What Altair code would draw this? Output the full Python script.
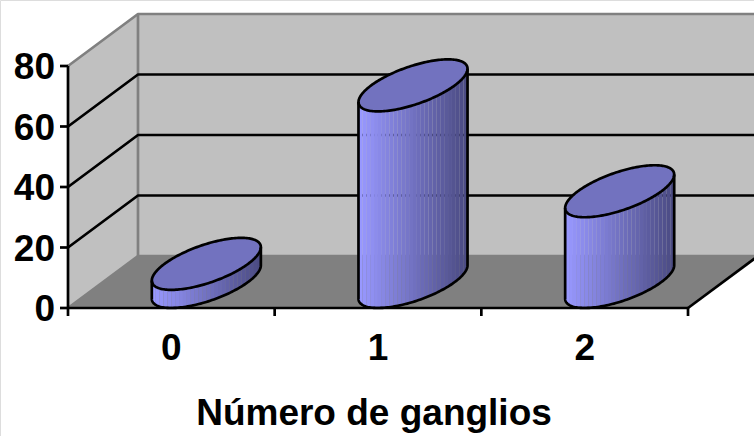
import altair as alt
import numpy as np
import pandas as pd

# Chart content
categories = ["0", "1", "2"]
values = [6, 65, 30]
y_ticks = [0, 20, 40, 60, 80]
x_title = "Número de ganglios"

# Oblique projection of the plot box, in axis units
W, H = 754, 436
X_LEFT, Y_ZERO = 68, 308            # screen position of the front origin
PX_PER_CAT, PX_PER_VAL = 206.67, 3.025
DEPTH_X, DEPTH_Y = 70 / PX_PER_CAT, 52 / PX_PER_VAL
Y_MAX, N_CAT = 80, len(categories)

x_scale = alt.Scale(domain=[-X_LEFT / PX_PER_CAT, (W - X_LEFT) / PX_PER_CAT], nice=False, zero=False)
y_scale = alt.Scale(domain=[(Y_ZERO - H) / PX_PER_VAL, Y_ZERO / PX_PER_VAL], nice=False, zero=False)
X = alt.X("x:Q", scale=x_scale, axis=None)
Y = alt.Y("y:Q", scale=y_scale, axis=None)

BACK_WALL, SIDE_WALL, FLOOR = "#c0c0c0", "#c0c0c0", "#808080"
EDGE = "#808080"
LINE_W = 2.7


def polyline(points):
    return pd.DataFrame({"x": [p[0] for p in points], "y": [p[1] for p in points],
                         "i": range(len(points))})


def stroke(points, color="black", width=LINE_W):
    return alt.Chart(polyline(points)).mark_line(
        color=color, strokeWidth=width, clip=True, strokeJoin="round", strokeCap="butt"
    ).encode(x=X, y=Y, order="i:Q")


def band(rows, **mark):
    df = pd.DataFrame(rows, columns=["x", "y", "y2"])
    return alt.Chart(df).mark_area(clip=True, **mark).encode(x=X, y=Y, y2="y2:Q")


x_end = N_CAT
layers = []

# Walls and floor
layers.append(band([(DEPTH_X, Y_MAX + DEPTH_Y, DEPTH_Y), (x_end + DEPTH_X, Y_MAX + DEPTH_Y, DEPTH_Y)], color=BACK_WALL))
layers.append(band([(0, Y_MAX, 0), (DEPTH_X, Y_MAX + DEPTH_Y, DEPTH_Y)], color=SIDE_WALL))
layers.append(band([(0, 0, 0), (DEPTH_X, DEPTH_Y, 0), (x_end, DEPTH_Y, 0), (x_end + DEPTH_X, DEPTH_Y, DEPTH_Y)], color=FLOOR))

# Wall outlines
layers.append(stroke([(0, Y_MAX), (DEPTH_X, Y_MAX + DEPTH_Y), (x_end + DEPTH_X, Y_MAX + DEPTH_Y)], EDGE))
layers.append(stroke([(DEPTH_X, Y_MAX + DEPTH_Y), (DEPTH_X, DEPTH_Y), (x_end + DEPTH_X, DEPTH_Y)], EDGE))
layers.append(stroke([(0, 0), (DEPTH_X, DEPTH_Y)], EDGE))

# Gridlines across the side wall and the back wall
for tick in y_ticks[1:-1]:
    layers.append(stroke([(0, tick), (DEPTH_X, tick + DEPTH_Y), (x_end + DEPTH_X, tick + DEPTH_Y)]))

# Cylinders: each footprint is a circle sheared by the depth direction
A = 41.8 / PX_PER_CAT
B = DEPTH_X / 2
C = DEPTH_Y / 2
R = np.hypot(A, B)
N_STRIPS = 28
LEFT_RGB = np.array([152, 152, 255])
RIGHT_RGB = np.array([76, 76, 132])
TOP_COLOR = "#7272bf"


def ellipse_edges(dx):
    """Upper and lower edge of the footprint at horizontal offset dx."""
    a = B**2 / A**2 + 1
    b = -2 * dx * B / A**2
    c = dx**2 / A**2 - 1
    root = np.sqrt(np.clip(b**2 - 4 * a * c, 0, None))
    return C * (-b + root) / (2 * a), C * (-b - root) / (2 * a)


for pos, value in enumerate(values):
    cx = pos + 0.5 + B
    base = C
    top = base + value
    edges = np.linspace(-R, R, N_STRIPS + 1)

    # Shaded body, one vertical strip at a time
    for s in range(N_STRIPS):
        xs = np.linspace(edges[s], edges[s + 1], 5)
        _, low = ellipse_edges(xs)
        rgb = LEFT_RGB + (RIGHT_RGB - LEFT_RGB) * (s / (N_STRIPS - 1))
        color = "#%02x%02x%02x" % tuple(int(v) for v in rgb)
        layers.append(band(list(zip(cx + xs, base + low, top + low)), color=color))

    # Top face
    xs = R * np.sin(np.linspace(-np.pi / 2, np.pi / 2, 121))
    up, low = ellipse_edges(xs)
    layers.append(band(list(zip(cx + xs, top + up, top + low)), color=TOP_COLOR))

    # Outlines: top ring, silhouette sides and front arc
    t = np.linspace(0, 2 * np.pi, 181)
    ring = list(zip(cx + A * np.cos(t) + B * np.sin(t), top + C * np.sin(t)))
    layers.append(stroke(ring))
    xs = R * np.sin(np.linspace(-np.pi / 2, np.pi / 2, 91))
    _, low = ellipse_edges(xs)
    outline = [(cx - R, top + low[0])] + list(zip(cx + xs, base + low)) + [(cx + R, top + low[-1])]
    layers.append(stroke(outline))

# Axes on the front plane
layers.append(stroke([(0, 0), (0, Y_MAX)]))
layers.append(stroke([(0, 0), (x_end, 0)]))
layers.append(stroke([(x_end, 0), (x_end + DEPTH_X, DEPTH_Y)]))

TICK_X = 8 / PX_PER_CAT
TICK_Y = 8 / PX_PER_VAL
for tick in y_ticks:
    layers.append(stroke([(-TICK_X, tick), (0, tick)]))
for c in range(N_CAT + 1):
    layers.append(stroke([(c, 0), (c, -TICK_Y)]))

# Labels
FONT = "Liberation Sans"
label_style = dict(font=FONT, fontWeight="bold", fontSize=37, color="black")
layers.append(
    alt.Chart(pd.DataFrame({"y": y_ticks, "t": [str(v) for v in y_ticks]}))
    .mark_text(align="right", baseline="middle", dy=2, dx=1, **label_style)
    .encode(x=alt.value(54), y=Y, text="t:N")
)
layers.append(
    alt.Chart(pd.DataFrame({"x": [i + 0.5 for i in range(N_CAT)], "t": categories}))
    .mark_text(align="center", baseline="middle", **label_style)
    .encode(x=X, y=alt.value(348.5), text="t:N")
)
layers.append(
    alt.Chart(pd.DataFrame({"t": [x_title]}))
    .mark_text(align="center", baseline="middle", **label_style)
    .encode(x=alt.value(374), y=alt.value(413.5), text="t:N")
)

chart = (
    alt.layer(*layers)
    .properties(width=W, height=H, padding=0, autosize=alt.AutoSizeParams(type="none"))
    .configure_view(stroke=None)
    .configure(background="white")
)

chart.save("out.html", embed_options={"renderer": "svg", "actions": False})
